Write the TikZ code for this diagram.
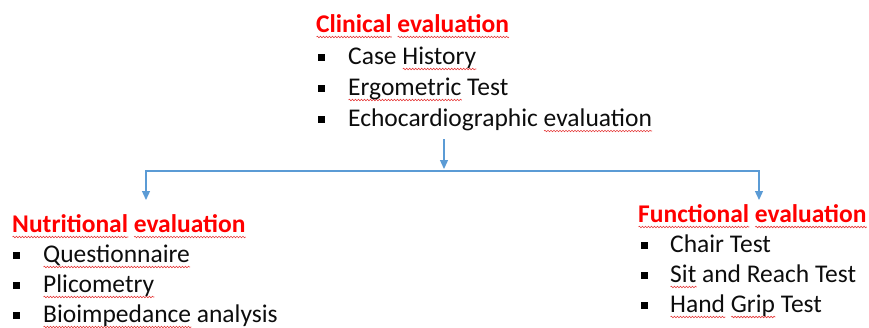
\documentclass[tikz,border=0pt]{standalone}
\usepackage{fontspec}
\setmainfont{Carlito}
\usetikzlibrary{arrows.meta,decorations.pathmorphing}
\definecolor{headred}{RGB}{255,0,0}
\definecolor{linkblue}{RGB}{91,155,213}
\definecolor{squigred}{RGB}{230,60,60}
\newlength\sqlen
% wavy spell-check line under a word
\newcommand\squig[1]{\settowidth\sqlen{#1}\leavevmode\rlap{\raisebox{-5pt}{\tikz[baseline=0pt]\draw[squigred,line width=0.6pt,decorate,decoration={snake,amplitude=0.8pt,segment length=3pt}] (0pt,0pt) -- (\sqlen,0pt);}}#1}
\tikzset{
  head/.style={anchor=base west, inner sep=0pt, font=\fontsize{25.5}{30}\selectfont\bfseries, text=headred},
  entry/.style={anchor=base west, inner sep=0pt, font=\fontsize{25.5}{30}\selectfont, text=black!95},
  bul/.style={fill=black, inner sep=0pt, minimum size=7pt},
  conn/.style={draw=linkblue, line width=1.3pt, -{Triangle[width=8pt,length=9pt]}}
}
\begin{document}
\begin{tikzpicture}[x=1pt,y=-1pt]
  \useasboundingbox (0,0) rectangle (869,327);

  % CLINICAL
  \node[head]  (clin)  at (316,32)  {\squig{Clinical} \squig{evaluation}};
  \node[bul]   (b11)   at (321,57)  {};
  \node[entry] (case)  at (348,64)  {Case \squig{History}};
  \node[bul]   (b12)   at (321,88)  {};
  \node[entry] (ergo)  at (348,95)  {\squig{Ergometric} Test};
  \node[bul]   (b13)   at (321,119) {};
  \node[entry] (echo)  at (348,126) {Echocardiographic \squig{evaluation}};

  % NUTRITIONAL
  \node[head]  (nutr)  at (12,232)  {\squig{Nutritional} \squig{evaluation}};
  \node[bul]   (b21)   at (16,255)  {};
  \node[entry] (quest) at (43,262)  {\squig{Questionnaire}};
  \node[bul]   (b22)   at (16,285)  {};
  \node[entry] (plico) at (43,292)  {\squig{Plicometry}};
  \node[bul]   (b23)   at (16,315)  {};
  \node[entry] (bioim) at (43,322)  {\squig{Bioimpedance} analysis};

  % FUNCTIONAL
  \node[head]  (func)  at (638,222) {\squig{Functional} \squig{evaluation}};
  \node[bul]   (b31)   at (644,245) {};
  \node[entry] (chair) at (670,252) {Chair Test};
  \node[bul]   (b32)   at (644,275) {};
  \node[entry] (sit)   at (670,282) {\squig{Sit} and Reach Test};
  \node[bul]   (b33)   at (644,305) {};
  \node[entry] (grip)  at (670,312) {\squig{Hand} \squig{Grip} Test};

  % ARROWS
  \coordinate (topout) at (444,139);
  \coordinate (split)  at (444,169);
  \coordinate (lefttip)  at (146,200);
  \coordinate (righttip) at (759,200);
  \coordinate (bar) at (444,171);
  \draw[conn] (topout) -- (split);
  \draw[conn, {Triangle[width=8pt,length=9pt]}-{Triangle[width=8pt,length=9pt]}] (lefttip) |- (bar) -| (righttip);

\end{tikzpicture}
\end{document}
